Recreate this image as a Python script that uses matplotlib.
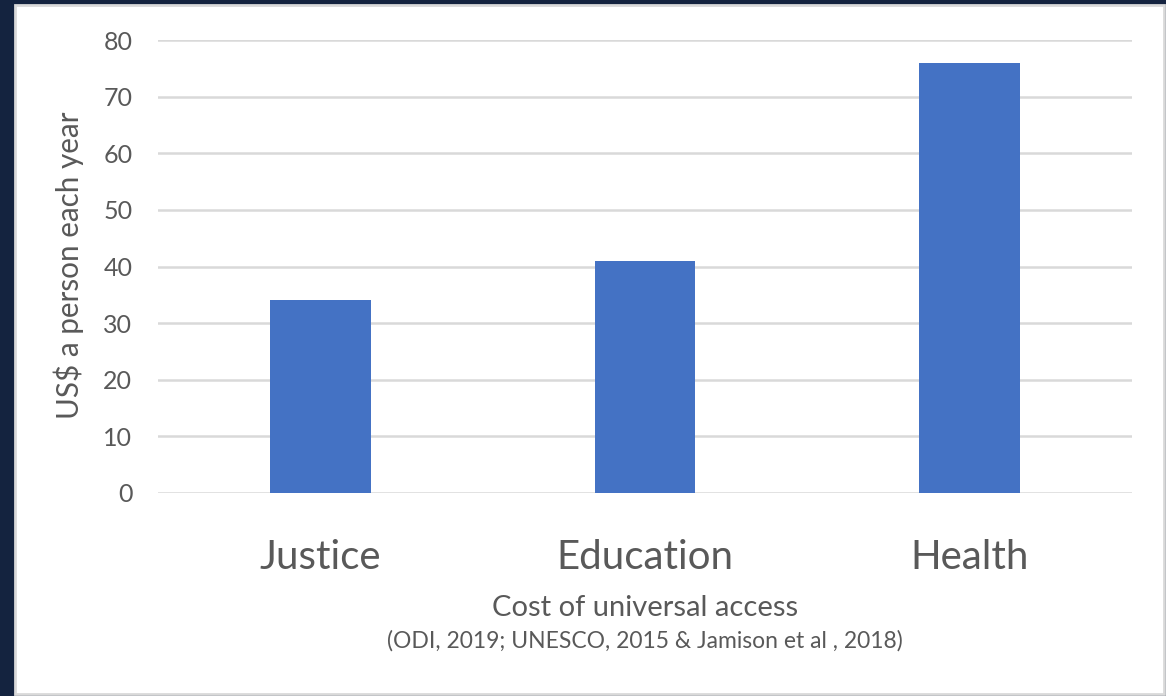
import matplotlib.pyplot as plt
from matplotlib.patches import Rectangle

# Coste anual por persona del acceso universal
categories = ['Justice', 'Education', 'Health']
cost_per_person = [34, 41, 76]
yticks = [0, 10, 20, 30, 40, 50, 60, 70, 80]

bar_color = '#4472c4'
text_color = '#595959'
grid_color = '#d9d9d9'

plt.rcParams['font.family'] = ['Lato', 'DejaVu Sans']

fig = plt.figure(figsize=(11.66, 6.96), dpi=100, facecolor='#14233f')

# Panel blanco con borde gris claro
panel = Rectangle((15 / 1166, 2 / 696), 1149 / 1166, 689 / 696,
                  transform=fig.transFigure, facecolor='white',
                  edgecolor=grid_color, linewidth=2, zorder=-10)
fig.patches.append(panel)

ax = fig.add_axes([158 / 1166, 1 - 493 / 696, 974 / 1166, 453 / 696])
ax.set_facecolor('none')

x = range(len(categories))
ax.bar(x, cost_per_person, width=0.31, color=bar_color, zorder=3)

ax.set_xlim(-0.5, len(categories) - 0.5)
ax.set_ylim(0, 80)
ax.set_yticks(yticks)
ax.set_xticks(list(x))
ax.set_xticklabels(categories, fontsize=29, color=text_color)
ax.tick_params(axis='x', length=0, pad=33)
ax.tick_params(axis='y', length=0, pad=18.5, labelsize=18, labelcolor=text_color)

ax.grid(axis='y', color=grid_color, linewidth=1.8, zorder=0)
for s in ax.spines.values():
    s.set_visible(False)

ax.set_ylabel('US$ a person each year', fontsize=21.3, color=text_color)
ax.yaxis.set_label_coords(-0.076, 0.503)

fig.text(645 / 1166, 1 - 608 / 696, 'Cost of universal access', ha='center',
         va='center', fontsize=21, color=text_color)
fig.text(645 / 1166, 1 - 641 / 696, '(ODI, 2019; UNESCO, 2015 & Jamison et al , 2018)',
         ha='center', va='center', fontsize=16.5, color=text_color)

fig.savefig('out.png', dpi=100, facecolor=fig.get_facecolor())
